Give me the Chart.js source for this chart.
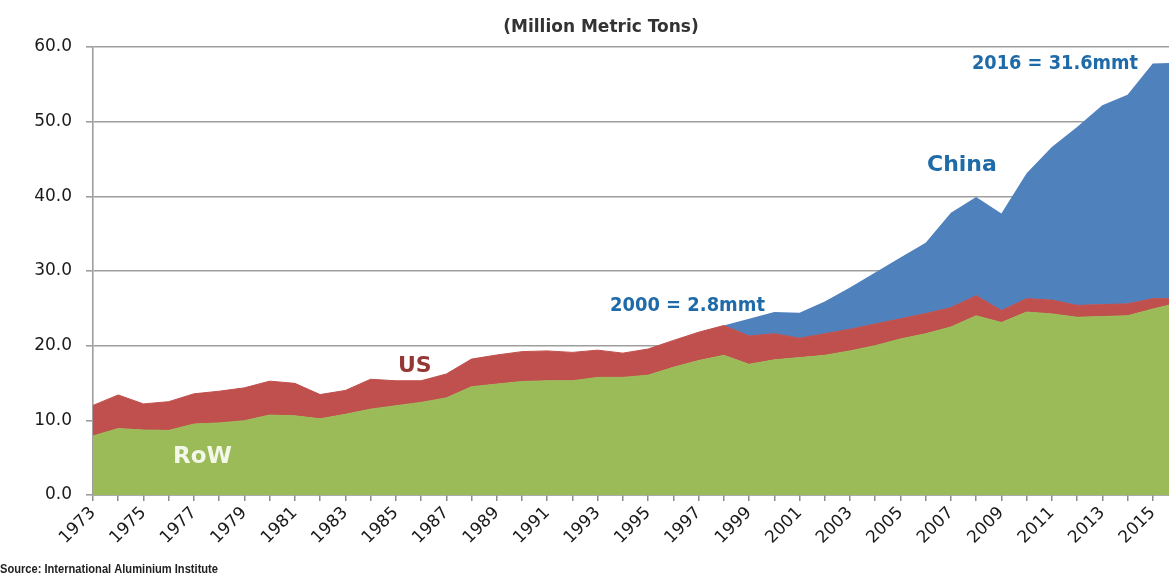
<!DOCTYPE html>
<html>
<head>
<meta charset="utf-8">
<title>Aluminium production</title>
<script src="https://cdn.jsdelivr.net/npm/chart.js@4.4.0/dist/chart.umd.min.js"></script>
<style>
  html, body { margin: 0; padding: 0; background: #fff; overflow: hidden; }
  #wrap { width: 1169px; height: 578px; overflow: hidden; }
  canvas { display: block; }
</style>
</head>
<body>
<div id="wrap"><canvas id="areaChart" width="1190" height="578"></canvas></div>
<script>
var years = ['1973', '1974', '1975', '1976', '1977', '1978', '1979', '1980', '1981', '1982',
	'1983', '1984', '1985', '1986', '1987', '1988', '1989', '1990', '1991', '1992',
	'1993', '1994', '1995', '1996', '1997', '1998', '1999', '2000', '2001', '2002',
	'2003', '2004', '2005', '2006', '2007', '2008', '2009', '2010', '2011', '2012',
	'2013', '2014', '2015', '2016'];

// million metric tons
var rowValues = [7.9, 8.9, 8.7, 8.65, 9.5, 9.65, 9.95, 10.7, 10.6, 10.2,
	10.8, 11.5, 11.95, 12.4, 13.0, 14.5, 14.85, 15.2, 15.3, 15.3,
	15.75, 15.75, 16.05, 17.1, 18.0, 18.7, 17.5, 18.1, 18.4, 18.7,
	19.3, 20.0, 20.9, 21.6, 22.5, 24.0, 23.1, 24.5, 24.25, 23.8,
	23.9, 24.0, 24.9, 25.7];
var usValues = [4.1, 4.5, 3.5, 3.85, 4.05, 4.25, 4.4, 4.55, 4.35, 3.25,
	3.2, 4.0, 3.35, 2.9, 3.2, 3.7, 3.9, 4.0, 4.0, 3.8,
	3.65, 3.25, 3.5, 3.6, 3.8, 4.0, 3.8, 3.5, 2.6, 2.9,
	2.9, 2.9, 2.7, 2.7, 2.6, 2.7, 1.6, 1.8, 1.85, 1.6,
	1.6, 1.6, 1.4, 0.6];
var chinaValues = [0, 0, 0, 0, 0, 0, 0, 0, 0, 0,
	0, 0, 0, 0, 0, 0, 0, 0, 0, 0,
	0, 0, 0, 0, 0, 0, 2.3, 2.9, 3.4, 4.3,
	5.6, 6.9, 8.2, 9.5, 12.7, 13.2, 13.0, 16.8, 20.5, 23.9,
	26.7, 28.0, 31.5, 31.6];

var yTicks = [0, 10, 20, 30, 40, 50, 60];

var green = '#9bbb59';
var red = '#c0504d';
var blue = '#4f81bd';
var gridGray = '#9e9e9e';

// text drawn on top of the chart
var textPlugin = {
	id: 'chartText',
	afterDraw: function(chart) {
		var ctx = chart.ctx;
		ctx.save();
		ctx.textBaseline = 'middle';

		ctx.textAlign = 'center';
		ctx.fillStyle = '#333';
		ctx.font = 'bold 17px "DejaVu Sans"';
		ctx.fillText('(Million Metric Tons)', 601, 28, 212);

		ctx.textAlign = 'left';
		ctx.font = 'bold 22px "DejaVu Sans"';
		ctx.fillStyle = '#953735';
		ctx.fillText('US', 398, 366);

		ctx.font = 'bold 23px "DejaVu Sans"';
		ctx.fillStyle = '#f3f7ea';
		ctx.fillText('RoW', 173, 457);

		ctx.font = 'bold 22px "DejaVu Sans"';
		ctx.fillStyle = '#1f6aa8';
		ctx.fillText('China', 927, 165);

		ctx.font = 'bold 19px "DejaVu Sans"';
		ctx.fillText('2000 = 2.8mmt', 610, 306, 155);
		ctx.fillText('2016 = 31.6mmt', 972, 64, 166);

		ctx.font = 'bold 12px "Liberation Sans"';
		ctx.fillStyle = '#222';
		ctx.fillText('Source: International Aluminium Institute', 0, 570, 218);
		ctx.restore();
	}
};

var chartdata = {
	labels: years,
	datasets: [
		{
			label: 'RoW',
			data: rowValues,
			backgroundColor: green,
			borderColor: green,
			borderWidth: 1,
			pointRadius: 0,
			fill: 'origin'
		},
		{
			label: 'US',
			data: usValues,
			backgroundColor: red,
			borderColor: red,
			borderWidth: 1,
			pointRadius: 0,
			fill: '-1'
		},
		{
			label: 'China',
			data: chinaValues,
			backgroundColor: blue,
			borderColor: blue,
			borderWidth: 0,
			pointRadius: 0,
			fill: '-1'
		}
	]
};

var options = {
	responsive: false,
	devicePixelRatio: 1,
	animation: false,
	layout: { padding: { top: 47, right: 12, bottom: 0, left: 0 } },
	plugins: {
		legend: { display: false },
		title: { display: false },
		tooltip: { enabled: false }
	},
	elements: { line: { tension: 0 } },
	scales: {
		x: {
			z: 1,
			offset: false,
			grid: { drawOnChartArea: false, drawTicks: true, tickLength: 6, color: '#8c8c8c', lineWidth: 1.5 },
			border: { display: true, color: '#8c8c8c', width: 1.5 },
			ticks: {
				autoSkip: false,
				maxRotation: 45,
				minRotation: 45,
				padding: 2,
				color: '#1a1a1a',
				font: { family: 'DejaVu Sans', size: 17 },
				callback: function(value, index) {
					return index % 2 === 0 && index < 43 ? years[index] : '';
				}
			},
			afterFit: function(scale) {
				scale.height = 83;
				scale.paddingLeft = 0;
				scale.paddingRight = 0;
			}
		},
		y: {
			stacked: true,
			min: 0,
			max: 60,
			grid: { color: gridGray, lineWidth: 1.6, tickLength: 7 },
			border: { display: true, color: gridGray, width: 1.6 },
			afterBuildTicks: function(scale) {
				scale.ticks = yTicks.map(function(v) { return { value: v }; });
			},
			ticks: {
				padding: 14,
				color: '#1a1a1a',
				font: { family: 'DejaVu Sans', size: 17 },
				callback: function(value) { return value.toFixed(1); }
			},
			afterFit: function(scale) {
				scale.width = 93;
			}
		}
	}
};

var ctx = document.getElementById('areaChart');
var areaChart = new Chart(ctx, {
	type: 'line',
	data: chartdata,
	options: options,
	plugins: [textPlugin]
});
</script>
</body>
</html>
